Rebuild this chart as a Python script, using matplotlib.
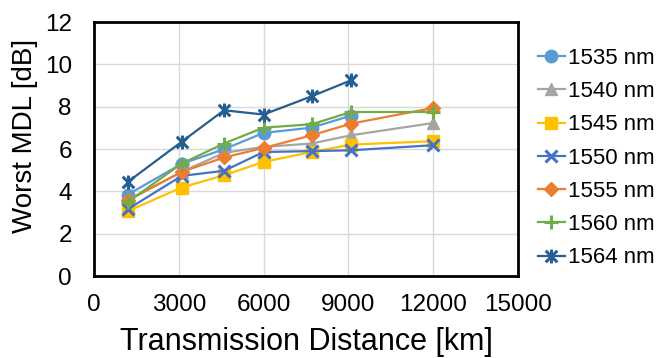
import matplotlib
matplotlib.use("Agg")
import matplotlib.pyplot as plt
from matplotlib.path import Path

plt.rcParams['font.family'] = ['Liberation Sans', 'DejaVu Sans']

distances = [1200, 3100, 4600, 6000, 7700, 9100, 12000]
labels = ["1535 nm", "1540 nm", "1545 nm", "1550 nm", "1555 nm", "1560 nm", "1564 nm"]
mdl_1535 = [3.85, 5.30, 5.99, 6.76, 7.01, 7.58]
mdl_1540 = [3.58, 4.92, 5.82, 6.10, 6.26, 6.65, 7.23]
mdl_1545 = [3.07, 4.18, 4.76, 5.39, 5.86, 6.21, 6.37]
mdl_1550 = [3.16, 4.73, 4.97, 5.86, 5.90, 5.94, 6.18]
mdl_1555 = [3.58, 4.92, 5.60, 6.05, 6.65, 7.20, 7.94]
mdl_1560 = [3.50, 5.31, 6.26, 7.01, 7.17, 7.75, 7.75]
mdl_1564 = [4.45, 6.34, 7.83, 7.63, 8.49, 9.25]

series = [mdl_1535, mdl_1540, mdl_1545, mdl_1550, mdl_1555, mdl_1560, mdl_1564]
colors = ["#5B9BD5", "#A5A5A5", "#FFC000", "#4472C4", "#ED7D31", "#70AD47", "#255E91"]

# Excel-style star: an X with a vertical bar
star = Path([(-1, -1), (1, 1), (-1, 1), (1, -1), (0, -1.2), (0, 1.2)],
            [Path.MOVETO, Path.LINETO, Path.MOVETO, Path.LINETO, Path.MOVETO, Path.LINETO])
markers = ["o", "^", "s", "x", "D", "+", star]
msizes = [9, 9, 9, 9, 7, 10, 10]

fig = plt.figure(figsize=(6.6, 3.58), dpi=100)
ax = fig.add_axes([0.1424, 0.229, 0.6424, 0.7095])

for vals, lab, c, m, ms in zip(series, labels, colors, markers, msizes):
    mew = 2.2 if m in ("x", "+") or isinstance(m, Path) else 1
    ax.plot(distances[:len(vals)], vals, color=c, marker=m, markersize=ms,
            markeredgewidth=mew, linewidth=1.6, label=lab)

ax.set_xlim(0, 15000)
ax.set_ylim(0, 12)
ax.set_xticks([0, 3000, 6000, 9000, 12000, 15000])
ax.set_yticks([0, 2, 4, 6, 8, 10, 12])
ax.grid(True, color="#D9D9D9", linewidth=1)
ax.set_axisbelow(True)
for s in ax.spines.values():
    s.set_color("black")
    s.set_linewidth(2)
ax.tick_params(axis="both", length=0, labelsize=17.5)
ax.tick_params(axis="x", pad=13)
ax.tick_params(axis="y", pad=16)
ax.set_xlabel("Transmission Distance [km]", fontsize=22, labelpad=8)
fig.text(25 / 660, 1 - 136 / 358, "Worst MDL [dB]", fontsize=20, rotation=90,
         ha="center", va="center")

ax.legend(loc="upper left", bbox_to_anchor=(538 / 660, 1 - 48 / 358),
          bbox_transform=fig.transFigure, frameon=False, fontsize=16,
          handlelength=1.2, handletextpad=0.15, labelspacing=0.55,
          borderaxespad=0, borderpad=0)

fig.savefig("out.png", dpi=100)
